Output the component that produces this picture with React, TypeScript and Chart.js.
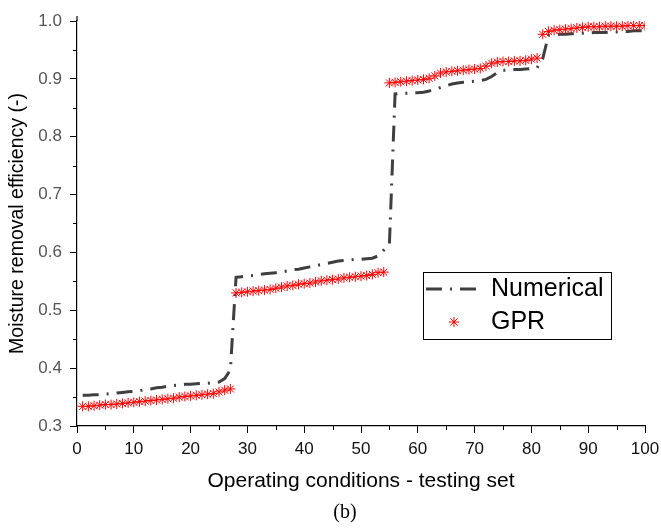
import React, { useEffect, useRef } from "react";
import { Chart, registerables } from "chart.js";

Chart.register(...registerables);

// Operating-condition index of each test case (x values)
const conditions: number[] = [
  1, 2, 3, 4, 5, 6, 7, 8, 9, 10, 11, 12, 13, 14, 15, 16, 17, 18, 19, 20,
  21, 22, 23, 24, 25, 26, 27, 28, 29, 30, 31, 32, 33, 34, 35, 36, 37, 38, 39, 40,
  41, 42, 43, 44, 45, 46, 47, 48, 49, 50, 51, 52, 53, 54, 55, 56, 57, 58, 59, 60,
  61, 62, 63, 64, 65, 66, 67, 68, 69, 70, 71, 72, 73, 74, 75, 76, 77, 78, 79, 80,
  81, 82, 83, 84, 85, 86, 87, 88, 89, 90, 91, 92, 93, 94, 95, 96, 97, 98, 99, 100,
];

const numerical: number[] = [
  0.353, 0.353, 0.354, 0.354, 0.355, 0.356, 0.357, 0.358, 0.359, 0.36,
  0.361, 0.363, 0.364, 0.366, 0.367, 0.369, 0.37, 0.371, 0.372, 0.372,
  0.373, 0.374, 0.374, 0.375, 0.376, 0.382, 0.397,
  0.557, 0.558, 0.559, 0.56, 0.562, 0.563, 0.564, 0.565, 0.566, 0.568,
  0.57, 0.571, 0.573, 0.575, 0.577, 0.579, 0.581, 0.583, 0.585, 0.586,
  0.587, 0.588, 0.588, 0.589, 0.59, 0.594, 0.604, 0.614,
  0.874, 0.875, 0.875, 0.876, 0.876, 0.877, 0.879, 0.882, 0.885, 0.888,
  0.891, 0.893, 0.894, 0.895, 0.896, 0.897, 0.899, 0.904, 0.911, 0.915,
  0.915, 0.916, 0.916, 0.917, 0.918, 0.919, 0.935,
  0.975, 0.976, 0.977, 0.977, 0.978, 0.978, 0.979, 0.979, 0.98, 0.98,
  0.98, 0.981, 0.981, 0.982, 0.982, 0.983, 0.983, 0.983, 0.984,
];

const gpr: number[] = [
  0.334, 0.334, 0.335, 0.336, 0.337, 0.337, 0.338, 0.339, 0.34, 0.341,
  0.342, 0.343, 0.344, 0.345, 0.346, 0.347, 0.348, 0.35, 0.351, 0.352,
  0.353, 0.354, 0.355, 0.356, 0.359, 0.362, 0.364,
  0.53, 0.531, 0.532, 0.533, 0.534, 0.535, 0.536, 0.538, 0.54, 0.542,
  0.543, 0.545, 0.546, 0.547, 0.549, 0.551, 0.552, 0.553, 0.554, 0.556,
  0.557, 0.558, 0.559, 0.56, 0.562, 0.565, 0.566,
  0.893, 0.894, 0.895, 0.896, 0.897, 0.898, 0.899, 0.901, 0.905, 0.91,
  0.912, 0.913, 0.914, 0.915, 0.916, 0.917, 0.918, 0.922, 0.927, 0.929,
  0.93, 0.93, 0.931, 0.931, 0.932, 0.934, 0.936,
  0.977, 0.982, 0.984, 0.985, 0.986, 0.987, 0.988, 0.989, 0.99, 0.99,
  0.99, 0.991, 0.991, 0.991, 0.991, 0.992, 0.992, 0.992, 0.992,
];

const xTicks: number[] = [0, 10, 20, 30, 40, 50, 60, 70, 80, 90, 100];
const yTicks: number[] = [0.3, 0.4, 0.5, 0.6, 0.7, 0.8, 0.9, 1.0];
const xMinorTicks: number[] = [5, 15, 25, 35, 45, 55, 65, 75, 85, 95];
const yMinorTicks: number[] = [0.35, 0.45, 0.55, 0.65, 0.75, 0.85, 0.95];

const seriesNames = ["Numerical", "GPR"];
const xTitle = "Operating conditions - testing set";
const yTitle = "Moisture removal efficiency (-)";
const caption = "(b)";

const SANS = '"Liberation Sans", Arial, sans-serif';
const SERIF = '"Liberation Serif", "Times New Roman", serif';
const LINE_COLOR = "#3f3f3f";
const DASH = [16, 8, 2, 8];

const minorTicksPlugin = {
  id: "minorTicks",
  afterDraw(chart: any) {
    const ctx = chart.ctx;
    const xs = chart.scales.x;
    const ys = chart.scales.y;
    const area = chart.chartArea;
    ctx.save();
    ctx.strokeStyle = "#000";
    ctx.lineWidth = 1;
    ctx.beginPath();
    xMinorTicks.forEach((v) => {
      const px = Math.round(xs.getPixelForValue(v)) + 0.5;
      ctx.moveTo(px, area.bottom);
      ctx.lineTo(px, area.bottom + 4);
    });
    yMinorTicks.forEach((v) => {
      const py = Math.round(ys.getPixelForValue(v)) + 0.5;
      ctx.moveTo(area.left, py);
      ctx.lineTo(area.left - 4, py);
    });
    ctx.stroke();
    // axis line extends slightly above the top tick
    ctx.lineWidth = 1.2;
    ctx.beginPath();
    ctx.moveTo(area.left, area.top);
    ctx.lineTo(area.left, area.top - 5);
    ctx.stroke();
    ctx.restore();
  },
};

const legendPlugin = {
  id: "boxLegend",
  afterDraw(chart: any) {
    const ctx = chart.ctx;
    ctx.save();
    const bx = 423.5, by = 272.5, bw = 188, bh = 67;
    ctx.fillStyle = "#fff";
    ctx.fillRect(bx, by, bw, bh);
    ctx.strokeStyle = "#000";
    ctx.lineWidth = 1;
    ctx.strokeRect(bx, by, bw, bh);
    // Numerical sample
    ctx.strokeStyle = LINE_COLOR;
    ctx.lineWidth = 3;
    ctx.lineCap = "butt";
    ctx.setLineDash(DASH);
    ctx.beginPath();
    ctx.moveTo(426, 289);
    ctx.lineTo(477, 289);
    ctx.stroke();
    ctx.setLineDash([]);
    // GPR sample (asterisk)
    const cx = 454, cy = 322, r = 5;
    ctx.strokeStyle = "#ff0000";
    ctx.lineWidth = 1;
    ctx.beginPath();
    for (let k = 0; k < 4; k++) {
      const a = (k * Math.PI) / 4;
      ctx.moveTo(cx - r * Math.cos(a), cy - r * Math.sin(a));
      ctx.lineTo(cx + r * Math.cos(a), cy + r * Math.sin(a));
    }
    ctx.stroke();
    ctx.fillStyle = "#000";
    ctx.font = `25px ${SANS}`;
    ctx.textBaseline = "middle";
    ctx.textAlign = "left";
    ctx.fillText(seriesNames[0], 491, 289);
    ctx.fillText(seriesNames[1], 491, 322);
    // caption
    ctx.font = `20px ${SERIF}`;
    ctx.textAlign = "center";
    ctx.fillText(caption, 345, 513);
    ctx.restore();
  },
};

export default function App() {
  const ref = useRef<HTMLCanvasElement | null>(null);

  useEffect(() => {
    if (!ref.current) return;
    const chart = new Chart(ref.current, {
      type: "line",
      data: {
        datasets: [
          {
            label: seriesNames[0],
            data: conditions.map((x, i) => ({ x, y: numerical[i] })),
            borderColor: LINE_COLOR,
            backgroundColor: LINE_COLOR,
            borderWidth: 3,
            borderDash: DASH,
            borderCapStyle: "butt",
            pointRadius: 0,
            tension: 0,
            fill: false,
            order: 2,
          },
          {
            label: seriesNames[1],
            data: conditions.map((x, i) => ({ x, y: gpr[i] })),
            showLine: false,
            pointStyle: "star",
            pointRadius: 5,
            pointBorderWidth: 1,
            borderColor: "#ff0000",
            backgroundColor: "#ff0000",
            pointBorderColor: "#ff0000",
            order: 1,
          },
        ],
      },
      options: {
        responsive: false,
        animation: false,
        events: [],
        layout: { padding: { left: 0, right: 16, top: 21, bottom: 0 } },
        plugins: {
          legend: { display: false },
          tooltip: { enabled: false },
          title: { display: false },
        },
        scales: {
          x: {
            type: "linear",
            min: 0,
            max: 100,
            afterFit: (s: any) => {
              s.height = 103;
              s.paddingLeft = 0;
              s.paddingRight = 0;
            },
            afterBuildTicks: (s: any) => {
              s.ticks = xTicks.map((v) => ({ value: v }));
            },
            border: { color: "#000", width: 1.2 },
            grid: {
              drawOnChartArea: false,
              drawTicks: true,
              tickLength: 7,
              tickColor: "#000",
              tickWidth: 1,
            },
            ticks: {
              color: "#111",
              font: { family: SANS, size: 17 },
              padding: 6,
              maxRotation: 0,
              callback: (v: any) => String(v),
            },
            title: {
              display: true,
              text: xTitle,
              color: "#000",
              font: { family: SANS, size: 21 },
              padding: { top: 0, bottom: 35 },
            },
          },
          y: {
            type: "linear",
            min: 0.3,
            max: 1.0,
            afterFit: (s: any) => {
              s.width = 77;
              s.paddingTop = 0;
              s.paddingBottom = 0;
            },
            afterBuildTicks: (s: any) => {
              s.ticks = yTicks.map((v) => ({ value: v }));
            },
            border: { color: "#000", width: 1.2 },
            grid: {
              drawOnChartArea: false,
              drawTicks: true,
              tickLength: 7,
              tickColor: "#000",
              tickWidth: 1,
            },
            ticks: {
              color: "#555",
              font: { family: SANS, size: 17 },
              padding: 8,
              callback: (v: any) => Number(v).toFixed(1),
            },
            title: {
              display: true,
              text: yTitle,
              color: "#000",
              font: { family: SANS, size: 19.5 },
              padding: { top: 6, bottom: 0 },
            },
          },
        },
      },
      plugins: [minorTicksPlugin, legendPlugin],
    } as any);
    return () => chart.destroy();
  }, []);

  return (
    <div style={{ position: "absolute", left: 0, top: 0, width: 661, height: 529, background: "#fff" }}>
      <canvas ref={ref} width={661} height={529} style={{ display: "block" }} />
    </div>
  );
}
